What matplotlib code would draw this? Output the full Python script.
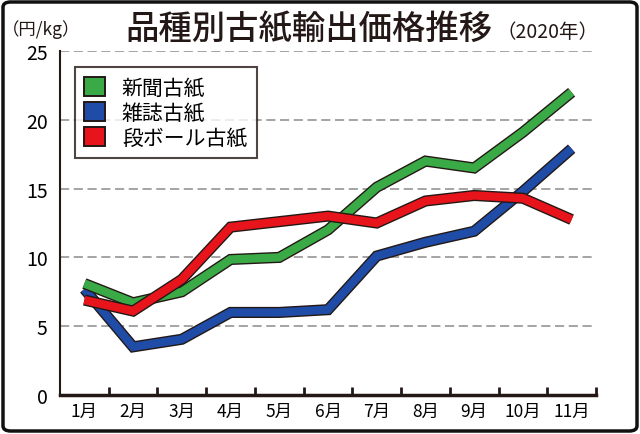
import matplotlib
matplotlib.use("Agg")
import matplotlib.pyplot as plt
import matplotlib.patheffects as pe
from matplotlib.patches import FancyBboxPatch, Patch

plt.rcParams['font.family'] = ['Noto Sans CJK JP', 'DejaVu Sans']

# data (円/kg, 2020)
months = ['1月', '2月', '3月', '4月', '5月', '6月', '7月', '8月', '9月', '10月', '11月']
newspaper = [8.1, 6.7, 7.5, 9.85, 10.0, 12.0, 15.1, 17.0, 16.5, 19.1, 22.0]
magazine = [7.7, 3.5, 4.05, 6.0, 6.0, 6.2, 10.1, 11.1, 11.9, 14.8, 17.9]
cardboard = [6.9, 6.1, 8.4, 12.2, 12.6, 13.0, 12.5, 14.1, 14.5, 14.3, 12.75]
names = ['新聞古紙', '雑誌古紙', '段ボール古紙']
colors = ['#3aaa46', '#1e4ca6', '#e8141c']
yticks = [0, 5, 10, 15, 20, 25]

fig = plt.figure(figsize=(6.4, 4.35), dpi=100)
ax = fig.add_axes([60/640, 39/435, 536/640, 344/435])

x = [i + 0.5 for i in range(len(months))]
outline = [pe.Stroke(linewidth=8, foreground='#231815'), pe.Normal()]
# draw in order so red sits on top like the original
for vals, c in [(magazine, colors[1]), (newspaper, colors[0]), (cardboard, colors[2])]:
    ax.plot(x, vals, color=c, lw=6, solid_joinstyle='miter',
            solid_capstyle='butt', path_effects=outline, zorder=3)

ax.set_xlim(0, len(months))
ax.set_ylim(0, 25)
ax.set_yticks(yticks)
ax.set_yticklabels([str(v) for v in yticks], fontsize=14)
ax.tick_params(axis='y', length=0, pad=9)
ax.set_xticks(range(1, len(months) + 1))
ax.set_xticklabels([])
ax.tick_params(axis='x', direction='in', length=6, width=2, color='#231815')
ax.set_xticks(x, minor=True)
ax.set_xticklabels(months, minor=True, fontsize=12.5)
ax.tick_params(axis='x', which='minor', length=0, pad=5)

for v in yticks[1:]:
    ax.axhline(v, color='#8c8c8c', lw=1.1, ls=(0, (6, 3)), zorder=1)

for s in ['top', 'right']:
    ax.spines[s].set_visible(False)
ax.spines['left'].set_linewidth(1.5)
ax.spines['left'].set_color('#231815')
ax.spines['bottom'].set_linewidth(2.5)
ax.spines['bottom'].set_color('#231815')

handles = [Patch(facecolor=c, edgecolor='#231815', lw=1.4) for c in colors]
leg = ax.legend(handles, names, loc='upper left', bbox_to_anchor=(0.028, 0.953),
                fontsize=15, frameon=True, fancybox=False, handlelength=1.0,
                handleheight=1.0, handletextpad=0.8, labelspacing=0.15,
                borderpad=0.45, borderaxespad=0)
leg.get_frame().set_edgecolor('#231815')
leg.get_frame().set_linewidth(1.5)

fig.text(125/640, 1 - 30/435, '品種別古紙輸出価格推移', fontsize=24, fontweight='medium',
         va='center', ha='left', color='#231815')
fig.text(496/640, 1 - 33/435, '（2020年）', fontsize=14, va='center', ha='left',
         color='#231815')
fig.text(2/640, 1 - 30/435, '（円/kg）', fontsize=12.5, va='center', ha='left',
         color='#231815')

frame = FancyBboxPatch((3/640, 3/435), 634/640, 429/435,
                       boxstyle='round,pad=0,rounding_size=0.012',
                       transform=fig.transFigure, fill=False,
                       edgecolor='#111111', lw=2.5)
fig.patches.append(frame)

fig.savefig('out.png', dpi=100)
